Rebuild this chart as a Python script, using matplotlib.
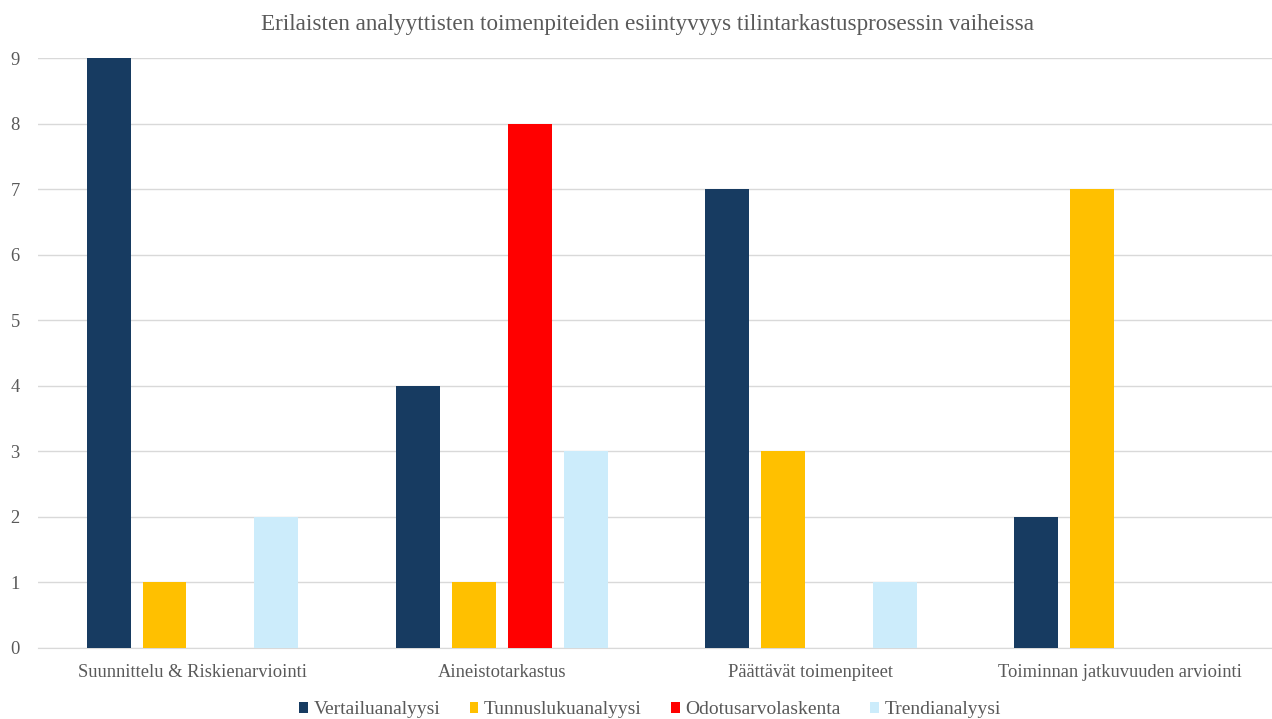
import matplotlib.pyplot as plt
import numpy as np

categories = ["Suunnittelu & Riskienarviointi", "Aineistotarkastus",
              "Päättävät toimenpiteet", "Toiminnan jatkuvuuden arviointi"]
series_names = ["Vertailuanalyysi", "Tunnuslukuanalyysi", "Odotusarvolaskenta", "Trendianalyysi"]
vertailu = [9, 4, 7, 2]
tunnusluku = [1, 1, 3, 7]
odotusarvo = [0, 8, 0, 0]
trendi = [2, 3, 1, 0]
colors = ["#173B61", "#FFC000", "#FF0000", "#CCECFB"]

plt.rcParams['font.family'] = ['Liberation Serif', 'DejaVu Serif']
text_col = "#595959"

fig = plt.figure(figsize=(12.72, 7.19), dpi=100)
ax = fig.add_axes([0.0298, 0.099, 0.9723, 0.82])

x = np.arange(len(categories))
width = 0.142
step = 0.181
for i, (vals, name) in enumerate(zip([vertailu, tunnusluku, odotusarvo, trendi], series_names)):
    ax.bar(x + (i - 1.5) * step, vals, width, color=colors[i], label=name, zorder=3)

ax.set_xlim(-0.5, 3.5)
ax.set_ylim(0, 9)
ax.set_yticks(range(10))
ax.yaxis.grid(True, color="#D9D9D9", linewidth=1, zorder=0)
ax.set_xticks(x)
ax.set_xticklabels(categories)
ax.tick_params(axis='both', length=0, labelsize=13.3, colors=text_col)
ax.tick_params(axis='x', pad=12)
ax.tick_params(axis='y', pad=13)
for s in ["top", "right", "left"]:
    ax.spines[s].set_visible(False)
ax.spines["bottom"].set_color("#D9D9D9")
fig.text(0.509, 0.966, "Erilaisten analyyttisten toimenpiteiden esiintyvyys tilintarkastusprosessin vaiheissa",
         fontsize=16.7, color=text_col, ha="center", va="center")
ax.legend(loc="center", bbox_to_anchor=(0.495, -0.105), ncol=4, frameon=False,
          fontsize=14, labelcolor=text_col, handlelength=0.45, handleheight=0.45,
          handletextpad=0.3, columnspacing=1.5, borderpad=0)

fig.savefig("out.png", dpi=100)
